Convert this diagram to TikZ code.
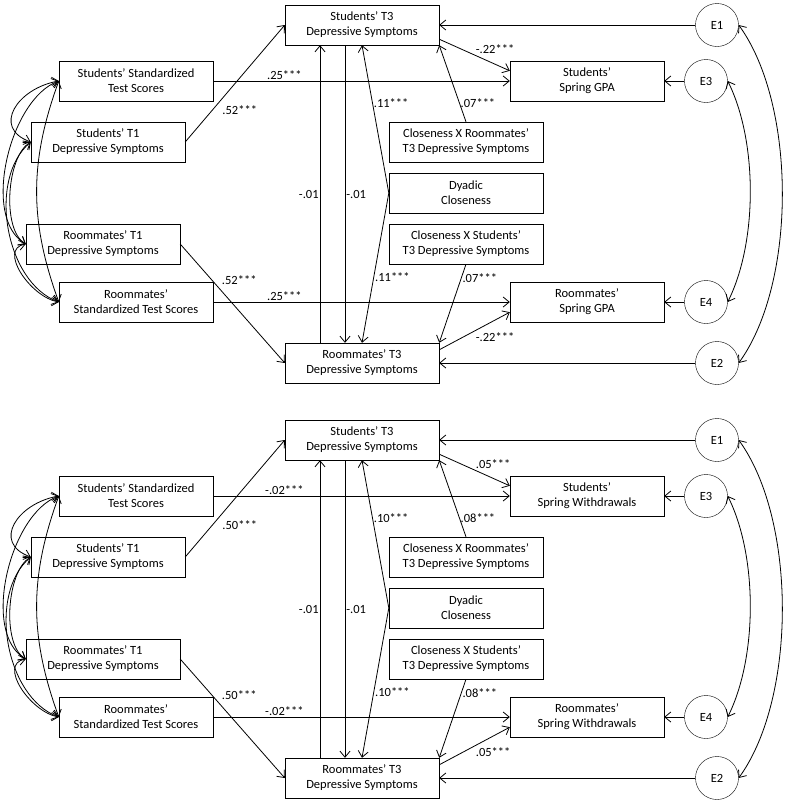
\documentclass[tikz,border=0pt]{standalone}
\usepackage{fontspec}
\setmainfont{Carlito}
\usetikzlibrary{arrows.meta}

\begin{document}
\begin{tikzpicture}[x=1pt, y=1pt
    , every node/.style={font=\fontsize{12.5}{15}\selectfont}
    , varbox/.style={draw, align=center, minimum width=154pt, minimum height=40pt, inner sep=0pt}
    , errnode/.style={draw, circle, minimum size=43pt, inner sep=0pt}
    , effect/.style={-{Straight Barb[length=6pt,width=10pt]}, line width=0.8pt}
    , cov/.style={{Straight Barb[length=6pt,width=10pt]}-{Straight Barb[length=6pt,width=10pt]}, line width=0.8pt}
    , coef/.style={inner sep=1pt}
    ]

    \useasboundingbox (0,0) rectangle (788,-801);

    %% one panel per outcome
    \foreach \p/\dy/\outc/\wout/\wsat/\wtone/\wdy/\wcx in
        {t/0/GPA/-.22/.25/.52/.11/.07, b/-415/Withdrawals/.05/-.02/.50/.10/.08} {
    \begin{scope}[yshift=\dy pt]
    \node[varbox] (\p s3) at (362,-25) {Students' T3\\Depressive Symptoms};
    \node[varbox] (\p ssat) at (136,-81) {Students' Standardized\\Test Scores};
    \node[varbox] (\p st1) at (108,-142) {Students' T1\\Depressive Symptoms};
    \node[varbox] (\p rt1) at (103,-244) {Roommates' T1\\Depressive Symptoms};
    \node[varbox] (\p rsat) at (136,-302) {Roommates'\\Standardized Test Scores};
    \node[varbox] (\p r3) at (362,-363) {Roommates' T3\\Depressive Symptoms};
    \node[varbox] (\p cxr) at (466,-142) {Closeness X Roommates'\\T3 Depressive Symptoms};
    \node[varbox] (\p dc) at (466,-193) {Dyadic\\Closeness};
    \node[varbox] (\p cxs) at (466,-244) {Closeness X Students'\\T3 Depressive Symptoms};
    \node[varbox] (\p so) at (587,-81) {Students'\\Spring \outc};
    \node[varbox] (\p ro) at (587,-302) {Roommates'\\Spring \outc};
    \node[errnode] (\p e1) at (717,-25) {E1};
    \node[errnode] (\p e3) at (706,-81) {E3};
    \node[errnode] (\p e4) at (706,-302) {E4};
    \node[errnode] (\p e2) at (717,-363) {E2};

    % paths
    \draw[effect] (\p ssat.east) -- (\p so.west) node[coef, pos=0.24, above] {\wsat***};
    \draw[effect] (\p rsat.east) -- (\p ro.west) node[coef, pos=0.24, above] {\wsat***};
    \draw[effect] (\p st1.east) -- (\p s3.west) node[coef, pos=0.27, right=9pt] {\wtone***};
    \draw[effect] (\p rt1.east) -- (\p r3.west) node[coef, pos=0.3, right=9pt] {\wtone***};
    \draw[effect] ([yshift=6pt]\p s3.south east) -- ([yshift=-10pt]\p so.north west)
        node[coef, pos=0.5, above right] {\wout***};
    \draw[effect] ([yshift=-7pt]\p r3.north east) -- ([yshift=10pt]\p ro.south west)
        node[coef, pos=0.5, below right] {\wout***};
    \draw[effect] ([xshift=-42pt]\p r3.north) -- ([xshift=-42pt]\p s3.south)
        node[coef, midway, left] {-.01};
    \draw[effect] ([xshift=-17pt]\p s3.south) -- ([xshift=-17pt]\p r3.north)
        node[coef, midway, right] {-.01};
    \draw[effect] (\p dc.west) -- (\p s3.south) node[coef, pos=0.61, right] {\wdy***};
    \draw[effect] (\p dc.west) -- (\p r3.north) node[coef, pos=0.56, right] {\wdy***};
    \draw[effect] (\p cxr.north) -- (\p s3.south east) node[coef, pos=0.25, right] {\wcx***};
    \draw[effect] (\p cxs.south) -- (\p r3.north east) node[coef, pos=0.18, right] {\wcx***};

    % residuals
    \draw[effect] (\p e1) -- (\p s3.east);
    \draw[effect] (\p e3) -- (\p so);
    \draw[effect] (\p e4) -- (\p ro);
    \draw[effect] (\p e2) -- (\p r3.east);
    \draw[cov] (\p e1.east) .. controls +(58,-80) and +(58,80) .. (\p e2.east);
    \draw[cov] (\p e3.east) .. controls +(30,-60) and +(30,60) .. (\p e4.east);

    % exogenous covariances
    \draw[cov] (\p ssat.west) to[out=190, in=160, looseness=1.6] (\p st1.west);
    \draw[cov] (\p ssat.west) to[out=200, in=150, looseness=0.8] (\p rt1.west);
    \draw[cov] (\p ssat.west) to[out=250, in=110] (\p rsat.west);
    \draw[cov] (\p st1.west) to[out=210, in=150, looseness=0.7] (\p rt1.west);
    \draw[cov] (\p st1.west) to[out=220, in=160, looseness=0.9] (\p rsat.west);
    \draw[cov] (\p rt1.west) to[out=190, in=170, looseness=1.1] (\p rsat.west);
    \end{scope}
    }

\end{tikzpicture}
\end{document}
